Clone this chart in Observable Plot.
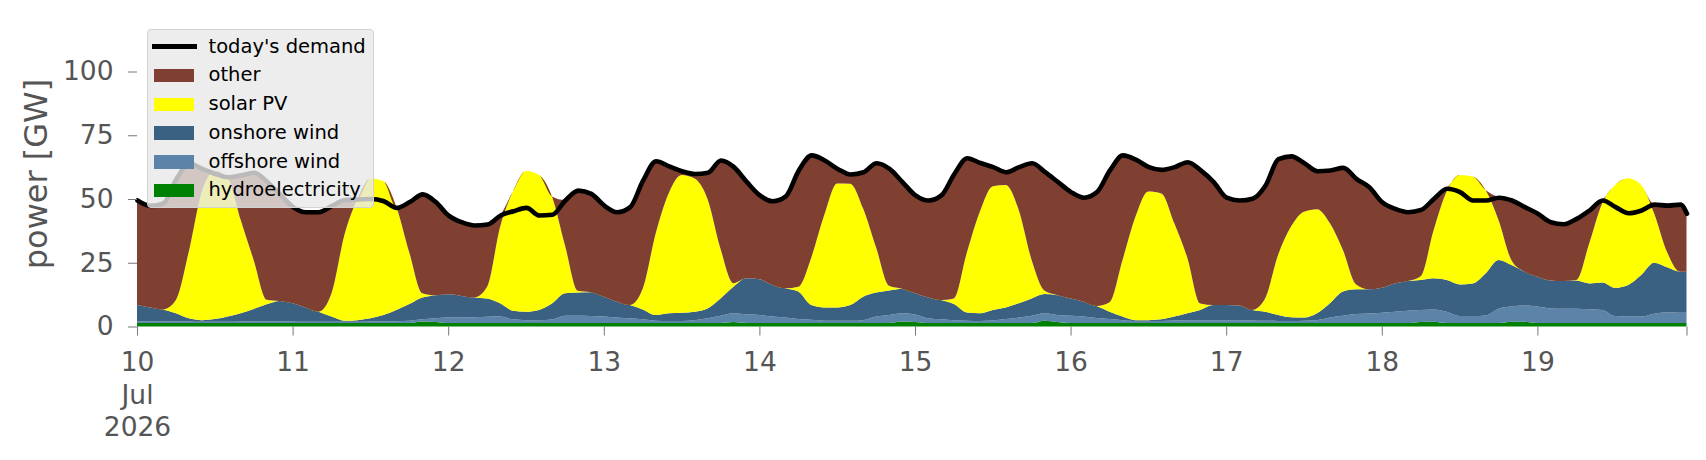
<!DOCTYPE html>
<html>
<head>
<meta charset="utf-8">
<script src="https://cdn.jsdelivr.net/npm/d3@7"></script>
<script src="https://cdn.jsdelivr.net/npm/@observablehq/plot@0.6"></script>
<style>
  html, body { margin: 0; padding: 0; background: #fff; }
  #wrap { position: relative; width: 1706px; height: 460px; font-family: "DejaVu Sans", sans-serif; }
  #legend { position: absolute; left: 146.5px; top: 29px; width: 227px; height: 179px; box-sizing: border-box;
            background: rgba(232,232,232,0.8); border: 1px solid #d2d2d2; border-radius: 4px; }
  .lrow { position: absolute; left: 0; height: 28px; width: 100%; }
  .lhandle { position: absolute; left: 6px; width: 40px; height: 13.5px; top: 7.5px; }
  .lline { position: absolute; left: 4px; width: 45px; height: 5px; top: 11.5px; background: #000; }
  .ltext { position: absolute; left: 61px; top: 0; line-height: 28px; font-size: 19.5px; color: #000; white-space: nowrap; }
</style>
</head>
<body>
<div id="wrap"></div>
<script>
// sample times: hours after 10 Jul 2026 00:00 (every 2 h, last sample at 23:00 on 19 Jul)
const hours = [...d3.range(0, 240, 2), 239];

// GW values, one per sample (12 per day, days 10..19, plus final hour)
const hydro = [
  1.4,1.4,1.4,1.4,1.4,1.4,1.4,1.4,1.4,1.4,1.4,1.4,
  1.4,1.4,1.4,1.4,1.4,1.4,1.4,1.4,1.4,1.4,2.0,1.8,
  1.4,1.4,1.4,1.4,1.4,1.4,1.4,1.4,1.4,1.4,1.4,1.4,
  1.4,1.4,1.4,1.4,1.4,1.4,1.4,1.4,1.4,1.4,1.8,1.4,
  1.4,1.4,1.4,1.4,1.4,1.4,1.4,1.4,1.4,1.4,1.4,2.0,
  1.8,1.4,1.4,1.4,1.4,1.4,1.4,1.4,1.4,1.4,2.3,1.8,
  1.4,1.4,1.4,1.4,1.4,1.4,1.4,1.4,1.4,1.4,1.4,1.4,
  1.4,1.4,1.4,1.4,1.4,1.4,1.4,1.4,1.4,1.4,1.4,1.4,
  1.4,1.4,1.4,1.8,1.9,1.4,1.4,1.4,1.4,1.4,1.9,1.9,
  1.4,1.4,1.4,1.4,1.4,1.4,1.4,1.4,1.4,1.4,1.4,1.4,
  1.4
];
const offshore = [
  0.7,0.7,0.6,0.6,0.6,0.5,0.5,0.5,0.6,0.6,0.7,0.7,
  0.6,0.5,0.5,0.5,0.5,0.5,0.6,0.6,0.7,0.9,0.8,1.4,
  2.1,2.1,2.2,2.4,2.5,1.4,1.1,1.1,1.3,2.8,2.8,2.7,
  2.5,2.1,1.8,1.4,0.9,0.8,0.8,1.1,1.8,2.8,3.4,3.4,
  3.1,2.5,2.1,1.5,1.2,0.9,0.9,0.9,1.1,2.5,3.1,3.2,
  2.9,1.8,1.4,1.1,0.9,0.8,1.0,1.5,2.1,2.8,2.9,2.7,
  2.8,2.5,1.9,1.5,1.1,0.8,0.8,0.8,1.0,1.1,1.1,1.1,
  1.1,1.1,1.0,0.9,0.8,0.8,0.9,1.1,2.1,2.8,3.5,3.7,
  4.0,4.4,4.8,4.7,4.8,4.4,2.7,2.7,2.9,5.6,5.9,6.3,
  6.4,5.7,5.6,5.6,5.4,5.1,2.7,2.6,2.5,3.6,4.2,4.0,
  4.0
];
const onshore = [
  6.3,5.4,4.7,3.2,1.2,0.6,1.0,2.0,3.2,4.9,6.6,7.9,
  7.1,5.6,3.9,2.0,0.4,0.6,1.2,2.5,4.4,6.5,8.6,9.0,
  9.1,8.5,7.8,7.2,5.2,3.4,3.3,4.0,6.3,8.8,9.1,9.3,
  7.8,6.2,5.2,3.9,2.2,3.0,3.2,3.3,3.9,6.8,10.4,14.1,
  14.0,12.4,11.5,10.8,5.8,5.2,5.2,6.1,9.2,9.4,9.6,9.6,
  8.3,8.2,7.6,6.3,3.2,3.0,4.1,4.6,5.6,6.8,7.5,7.8,
  6.8,5.8,4.7,2.9,1.4,0.3,0.3,0.6,1.5,2.7,4.0,5.9,
  5.9,5.7,4.1,3.5,2.3,1.4,1.2,2.7,5.6,9.5,9.7,9.5,
  9.8,11.1,11.6,11.7,12.2,12.4,12.4,12.8,16.5,19.1,16.3,13.3,
  11.7,10.9,10.8,11.0,10.1,10.8,11.1,12.3,16.3,20.0,17.6,16.1,
  16.1
];
const solar = [
  0,0,0,5.2,26.3,50.4,58.2,54.2,36.6,19.1,1.8,0,
  0,0,0,9.1,33.7,47.5,54.8,52.5,40.5,20.2,1.6,0,
  0,0,0,4.6,29.9,46.8,55.2,52.9,42.0,19.0,0.7,0,
  0,0,0,8.1,32.0,47.0,54.0,52.2,42.9,19.5,1.4,0,
  0,0,0,1.9,18.6,36.2,48.6,47.6,34.6,17.7,1.9,0,
  0,0,0,2.2,23.5,39.8,48.5,48.0,36.6,15.0,1.3,0,
  0,0,0,3.7,22.1,40.5,50.4,49.4,36.6,21.8,2.5,0,
  0,0,0,5.2,23.5,35.6,41.5,40.8,31.4,16.3,2.0,0,
  0,0,0,1.5,18.9,34.7,42.9,41.9,32.7,15.7,1.9,0,
  0,0,0,0.2,15.7,31.0,40.3,41.8,35.3,19.4,6.0,0,
  0
];
const other = [
  41.2,40.0,41.8,47.6,34.5,9.1,0,0.6,17.7,34.5,46.5,42.0,
  37.9,37.5,39.2,34.5,13.8,0,0,0,0,20.0,39.0,36.8,
  31.1,29.1,28.4,24.6,4.7,0,0,0,0,17.6,39.5,38.8,
  35.9,35.3,38.6,42.7,28.5,10.8,1.7,2.0,10.5,34.8,45.7,37.9,
  33.1,33.0,36.2,45.8,40.3,21.6,5.9,3.8,14.4,33.2,46.0,42.0,
  38.6,38.2,41.2,49.0,37.2,19.3,7.7,5.2,17.0,38.2,46.7,44.5,
  41.9,41.0,44.9,51.9,41.3,22.6,9.8,9.4,22.2,37.6,52.4,48.4,
  42.3,41.4,43.8,44.5,37.8,27.7,19.2,15.1,20.9,32.4,41.5,40.2,
  33.7,29.4,27.2,26.2,12.5,1.3,0,0,0,8.9,23.6,25.5,
  24.9,23.1,22.5,24.2,13.1,1.3,0,0,0,3.6,18.4,26.5,
  22.9
];
const demand = [
  49.6,47.5,48.5,58,64,62,60,58.7,59.5,60.5,57,52,
  47,45,45,47.5,49.8,50,50.2,49.3,46.7,49,52,49,
  43.7,41.1,39.8,40.2,43.7,45.4,46.7,43.7,44,49.6,53.5,52.2,
  47.6,45,47,57.5,65,63,61.1,60,60.5,65.3,62.7,56.8,
  51.6,49.3,51.2,61.4,67.3,65.3,62,59.8,60.7,64.2,62,56.8,
  51.6,49.6,51.6,60,66.2,64.3,62.7,60.7,62.7,64.2,60.7,56.8,
  52.9,50.7,52.9,61.4,67.3,65.6,62.7,61.6,62.7,64.6,61.4,56.8,
  50.7,49.6,50.3,55.5,65.8,66.9,64.2,61.1,61.4,62.4,58.1,54.8,
  48.9,46.3,45,45.9,50.3,54.2,52.9,49.6,49.6,50.7,49.6,47,
  44.4,41.1,40.3,42.4,45.7,49.6,47,44.6,45.7,48,47.6,48,
  44.4
];

// stacking order bottom -> top, with colours
const seriesNames = ["hydroelectricity", "offshore wind", "onshore wind", "solar PV", "other"];
const seriesColors = ["#008000", "#5b84a8", "#3b6182", "#ffff00", "#7f4032"];
const seriesValues = [hydro, offshore, onshore, solar, other];

// legend order (top -> bottom)
const legendLabels = ["today's demand", "other", "solar PV", "onshore wind", "offshore wind", "hydroelectricity"];

// x tick days
const tickDays = [10, 11, 12, 13, 14, 15, 16, 17, 18, 19];
const yTicks = [0, 25, 50, 75, 100];

const t0 = Date.UTC(2026, 6, 10);
const toDate = h => new Date(t0 + h * 3600e3);

const rows = [];
seriesNames.forEach((name, i) => {
  hours.forEach((h, j) => rows.push({time: toDate(h), series: name, value: seriesValues[i][j]}));
});
const demandRows = hours.map((h, j) => ({time: toDate(h), value: demand[j]}));
const tEnd = toDate(hours[hours.length - 1]);
const tickDates = [...tickDays.map(d => new Date(Date.UTC(2026, 6, d))), tEnd];

const tickFmt = d => +d === +tEnd ? "" : (d.getUTCDate() === 10 ? "10\nJul\n2026" : String(d.getUTCDate()));

const curve = "monotone-x";

const chart = Plot.plot({
  width: 1706,
  height: 460,
  marginLeft: 137,
  marginRight: 19.5,
  marginTop: 20.5,
  marginBottom: 133.5,
  style: {fontFamily: "DejaVu Sans", background: "#fff", color: "#555"},
  x: {type: "utc", domain: [toDate(hours[0]), tEnd]},
  y: {domain: [0, 120]},
  color: {domain: seriesNames, range: seriesColors},
  marks: [
    Plot.areaY(rows, {x: "time", y: "value", fill: "series", order: seriesNames, curve}),
    Plot.line(demandRows, {x: "time", y: "value", curve, stroke: "black", strokeWidth: 4.6, strokeLinejoin: "round", strokeLinecap: "round"}),
    Plot.axisX({ticks: tickDates, tickFormat: tickFmt, tickSize: 9, tickPadding: 12, fontSize: 26.5,
                lineHeight: 1.23, label: null, stroke: "#777", fill: "#555"}),
    Plot.axisY({ticks: yTicks, tickSize: 9, tickPadding: 15, fontSize: 26.5, label: null, stroke: "#777", fill: "#555"}),
    Plot.axisY({ticks: [], label: "power [GW]", labelAnchor: "center", labelArrow: "none", labelOffset: 113,
                fontSize: 32, fill: "#555"})
  ]
});

const wrap = document.getElementById("wrap");
wrap.appendChild(chart);

// legend overlay
const legend = document.createElement("div");
legend.id = "legend";
legendLabels.forEach((lab, i) => {
  const row = document.createElement("div");
  row.className = "lrow";
  row.style.top = (2.7 + i * 28.7) + "px";
  const h = document.createElement("div");
  if (i === 0) {
    h.className = "lline";
  } else {
    h.className = "lhandle";
    h.style.background = seriesColors[seriesNames.indexOf(lab)];
  }
  const t = document.createElement("div");
  t.className = "ltext";
  t.textContent = lab;
  row.appendChild(h);
  row.appendChild(t);
  legend.appendChild(row);
});
wrap.appendChild(legend);
</script>
</body>
</html>
